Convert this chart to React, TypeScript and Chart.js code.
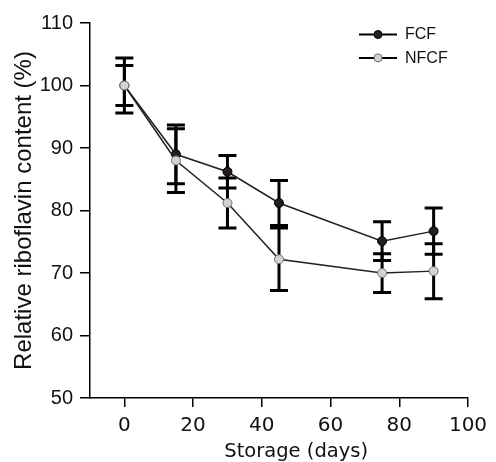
import React, { useEffect, useRef } from "react";
import { Chart, registerables } from "chart.js";

Chart.register(...registerables);

const days = [0, 15, 30, 45, 75, 90];
const fcfValues = [100, 89.0, 86.2, 81.2, 75.1, 76.7];
const fcfErrors = [4.4, 4.7, 2.6, 3.6, 3.1, 3.7];
const nfcfValues = [100, 88.0, 81.2, 72.2, 70.0, 70.3];
const nfcfErrors = [3.2, 5.1, 4.0, 5.0, 3.1, 4.4];
const xTicks = [0, 20, 40, 60, 80, 100];
const yTicks = [50, 60, 70, 80, 90, 100, 110];
const seriesLabels = ["FCF", "NFCF"];
const xTitle = "Storage (days)";
const yTitle = "Relative riboflavin content (%)";

const errorBarPlugin = {
  id: "errorBars",
  beforeDatasetsDraw(chart: any) {
    const { ctx, scales } = chart;
    const x = scales.x;
    const y = scales.y;
    ctx.save();
    ctx.strokeStyle = "#000";
    ctx.lineWidth = 3;
    ctx.lineCap = "butt";
    chart.data.datasets.forEach((ds: any) => {
      const errs: number[] = ds.errors || [];
      ds.data.forEach((pt: any, i: number) => {
        const px = x.getPixelForValue(pt.x);
        const top = y.getPixelForValue(pt.y + errs[i]);
        const bot = y.getPixelForValue(pt.y - errs[i]);
        const half = 9;
        ctx.beginPath();
        ctx.moveTo(px, top);
        ctx.lineTo(px, bot);
        ctx.moveTo(px - half, top);
        ctx.lineTo(px + half, top);
        ctx.moveTo(px - half, bot);
        ctx.lineTo(px + half, bot);
        ctx.stroke();
      });
    });
    ctx.restore();
  },
};

const xTitlePlugin = {
  id: "xTitle",
  afterDraw(chart: any) {
    const { ctx, scales } = chart;
    const x = scales.x;
    const cx = (x.getPixelForValue(xTicks[0]) + x.getPixelForValue(xTicks[xTicks.length - 1])) / 2;
    ctx.save();
    ctx.fillStyle = "#111";
    ctx.font = "19.5px 'DejaVu Sans'";
    ctx.textAlign = "center";
    ctx.textBaseline = "alphabetic";
    ctx.fillText(xTitle, cx, x.bottom - 5.5);
    ctx.restore();
  },
};

const legendPlugin = {
  id: "customLegend",
  afterDraw(chart: any) {
    const { ctx, chartArea } = chart;
    ctx.save();
    seriesLabels.forEach((label, row) => {
      const ds = chart.data.datasets.find((d: any) => d.label === label);
      const yy = chartArea.top + 11.5 + row * 23.4;
      const x0 = chartArea.right - 109;
      const x1 = chartArea.right - 71;
      ctx.strokeStyle = "#000";
      ctx.lineWidth = 2;
      ctx.beginPath();
      ctx.moveTo(x0, yy);
      ctx.lineTo(x1, yy);
      ctx.stroke();
      ctx.beginPath();
      ctx.arc((x0 + x1) / 2, yy, 4, 0, Math.PI * 2);
      ctx.fillStyle = ds.pointBackgroundColor;
      ctx.fill();
      ctx.lineWidth = 1;
      ctx.strokeStyle = ds.pointBorderColor;
      ctx.stroke();
      ctx.fillStyle = "#111";
      ctx.font = "16px 'Liberation Sans', Arial, sans-serif";
      ctx.textBaseline = "middle";
      ctx.textAlign = "left";
      ctx.fillText(ds.label, x1 + 8, yy + 0.5);
    });
    ctx.restore();
  },
};

export default function App() {
  const canvasRef = useRef<HTMLCanvasElement | null>(null);

  useEffect(() => {
    if (!canvasRef.current) return;
    const chart = new Chart(canvasRef.current, {
      type: "line",
      data: {
        datasets: [
          {
            label: seriesLabels[0],
            data: days.map((d, i) => ({ x: d, y: fcfValues[i] })),
            errors: fcfErrors,
            borderColor: "#231f20",
            borderWidth: 1.5,
            pointBackgroundColor: "#231f20",
            pointBorderColor: "#000",
            pointBorderWidth: 1,
            pointRadius: 4.5,
            order: 2,
          } as any,
          {
            label: seriesLabels[1],
            data: days.map((d, i) => ({ x: d, y: nfcfValues[i] })),
            errors: nfcfErrors,
            borderColor: "#231f20",
            borderWidth: 1.5,
            pointBackgroundColor: "#d1d3d4",
            pointBorderColor: "#6d6e71",
            pointBorderWidth: 1,
            pointRadius: 4.5,
            order: 1,
          } as any,
        ],
      },
      options: {
        responsive: false,
        animation: false,
        layout: { padding: { top: 23, right: 28, left: 0, bottom: 0 } },
        plugins: {
          legend: { display: false },
          tooltip: { enabled: false },
        },
        scales: {
          x: {
            type: "linear",
            min: -10,
            max: 100,
            afterBuildTicks: (scale: any) => {
              scale.ticks = xTicks.map((v) => ({ value: v }));
            },
            afterFit: (scale: any) => {
              scale.height = 64;
            },
            grid: {
              display: true,
              drawOnChartArea: false,
              drawTicks: true,
              tickLength: 9,
              color: "#000",
              lineWidth: 1.5,
            },
            border: { display: true, color: "#000", width: 1.5 },
            ticks: {
              color: "#111",
              padding: 7,
              maxRotation: 0,
              font: { family: "'DejaVu Sans'", size: 20 },
            },
            title: { display: false },
          },
          y: {
            type: "linear",
            min: 50,
            max: 110,
            afterBuildTicks: (scale: any) => {
              scale.ticks = yTicks.map((v) => ({ value: v }));
            },
            afterFit: (scale: any) => {
              scale.width = 90;
            },
            grid: {
              display: true,
              drawOnChartArea: false,
              drawTicks: true,
              tickLength: 10,
              color: "#000",
              lineWidth: 1.5,
            },
            border: { display: true, color: "#000", width: 1.5 },
            ticks: {
              color: "#111",
              padding: 7,
              font: { family: "'Liberation Sans'", size: 20 },
            },
            title: {
              display: true,
              text: yTitle,
              color: "#111",
              padding: { top: 10, bottom: 0 },
              font: { family: "'Liberation Sans'", size: 24 },
            },
          },
        },
      },
      plugins: [errorBarPlugin, legendPlugin, xTitlePlugin],
    });
    return () => chart.destroy();
  }, []);

  return (
    <div style={{ position: "absolute", left: 0, top: 0, width: 496, height: 462 }}>
      <canvas ref={canvasRef} width={496} height={462} style={{ width: 496, height: 462 }} />
    </div>
  );
}
